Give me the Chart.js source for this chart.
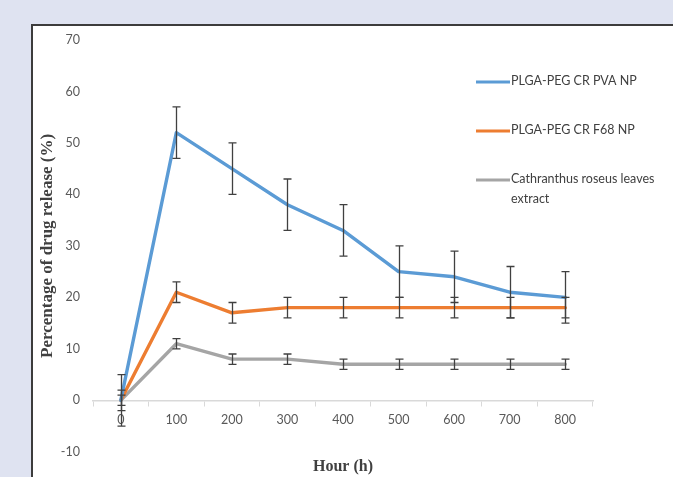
<!DOCTYPE html>
<html>
<head>
<meta charset="utf-8">
<title>Drug release</title>
<script src="https://cdn.jsdelivr.net/npm/chart.js@4.4.1/dist/chart.umd.min.js"></script>
<style>
  html, body {
    margin: 0;
    padding: 0;
    width: 673px;
    height: 477px;
    overflow: hidden;
    background: #dfe3f1;
  }
  .panel {
    position: absolute;
    left: 31px;
    top: 24px;
    right: 0;
    bottom: 0;
    background: #ffffff;
    border-left: 2px solid #3c3c3c;
    border-top: 2px solid #3c3c3c;
  }
  #releaseChart {
    position: absolute;
    left: 0;
    top: 0;
  }
</style>
</head>
<body>
<div class="panel"></div>
<canvas id="releaseChart" width="673" height="477"></canvas>

<script>
const hours = ["0", "100", "200", "300", "400", "500", "600", "700", "800"];

const pvaRelease = [0, 52, 45, 38, 33, 25, 24, 21, 20];
const pvaError = [5, 5, 5, 5, 5, 5, 5, 5, 5];

const f68Release = [0, 21, 17, 18, 18, 18, 18, 18, 18];
const f68Error = [2, 2, 2, 2, 2, 2, 2, 2, 2];

const extractRelease = [0, 11, 8, 8, 7, 7, 7, 7, 7];
const extractError = [1, 1, 1, 1, 1, 1, 1, 1, 1];

const legendLabels = [
  ["PLGA-PEG CR PVA NP"],
  ["PLGA-PEG CR F68 NP"],
  ["Cathranthus roseus leaves", "extract"]
];

const yTicks = [-10, 0, 10, 20, 30, 40, 50, 60, 70];

const labelFont = "Lato, 'Open Sans', sans-serif";
const titleFont = "'Liberation Serif', 'DejaVu Serif', serif";

// error bars, drawn on top of the lines
const errorBars = {
  id: "errorBars",
  afterDatasetsDraw(chart) {
    const ctx = chart.ctx;
    const x = chart.scales.x;
    const y = chart.scales.y;
    ctx.save();
    ctx.strokeStyle = "#404040";
    ctx.lineWidth = 1.3;
    chart.data.datasets.forEach((ds) => {
      ds.data.forEach((v, i) => {
        const e = ds.errors[i];
        const px = Math.round(x.getPixelForValue(i)) + 0.5;
        const top = y.getPixelForValue(v + e);
        const bot = y.getPixelForValue(v - e);
        ctx.beginPath();
        ctx.moveTo(px, top);
        ctx.lineTo(px, bot);
        ctx.moveTo(px - 4, top);
        ctx.lineTo(px + 4, top);
        ctx.moveTo(px - 4, bot);
        ctx.lineTo(px + 4, bot);
        ctx.stroke();
      });
    });
    ctx.restore();
  }
};

// legend on the right, with wrapped text
const sideLegend = {
  id: "sideLegend",
  afterDraw(chart) {
    const ctx = chart.ctx;
    const rows = [82, 131, 180];
    ctx.save();
    ctx.font = "12.5px " + labelFont;
    ctx.textBaseline = "middle";
    ctx.fillStyle = "#404040";
    chart.data.datasets.forEach((ds, i) => {
      const yy = rows[i];
      ctx.strokeStyle = ds.borderColor;
      ctx.lineWidth = 3;
      ctx.beginPath();
      ctx.moveTo(476, yy);
      ctx.lineTo(510, yy);
      ctx.stroke();
      legendLabels[i].forEach((line, j) => {
        ctx.fillText(line, 511, yy - 1 + j * 20);
      });
    });
    ctx.restore();
  }
};

const ctx = document.getElementById("releaseChart");

new Chart(ctx, {
  type: "line",
  data: {
    labels: hours,
    datasets: [
      {
        label: legendLabels[0].join(" "),
        data: pvaRelease,
        errors: pvaError,
        borderColor: "#5b9bd5",
        backgroundColor: "#5b9bd5"
      },
      {
        label: legendLabels[1].join(" "),
        data: f68Release,
        errors: f68Error,
        borderColor: "#ed7d31",
        backgroundColor: "#ed7d31"
      },
      {
        label: legendLabels[2].join(" "),
        data: extractRelease,
        errors: extractError,
        borderColor: "#a5a5a5",
        backgroundColor: "#a5a5a5"
      }
    ]
  },
  options: {
    responsive: false,
    animation: false,
    devicePixelRatio: 1,
    layout: {
      padding: { left: 37, right: 80, top: 40, bottom: 0 }
    },
    elements: {
      line: { borderWidth: 3.4, tension: 0, borderCapStyle: "round", borderJoinStyle: "round" },
      point: { radius: 0, hoverRadius: 0 }
    },
    scales: {
      x: {
        type: "category",
        offset: true,
        position: { y: 0 },
        afterFit(scale) {
          scale.height = 0;
        },
        grid: {
          display: true,
          offset: true,
          drawOnChartArea: false,
          drawTicks: true,
          tickLength: 5,
          color: "#d9d9d9",
          lineWidth: 1
        },
        border: { display: true, color: "#d9d9d9", width: 1.5 },
        ticks: {
          color: "#595959",
          font: { family: labelFont, size: 12.5 },
          padding: 7,
          maxRotation: 0
        }
      },
      y: {
        min: -10,
        max: 70,
        afterBuildTicks(scale) {
          scale.ticks = yTicks.map((v) => ({ value: v }));
        },
        afterFit(scale) {
          scale.width = 56;
        },
        grid: { display: false, drawTicks: false },
        border: { display: false },
        ticks: {
          color: "#595959",
          font: { family: labelFont, size: 12.5 },
          padding: 13
        },
        title: {
          display: true,
          text: "Percentage of drug release (%)",
          color: "#404040",
          font: { family: titleFont, size: 17, weight: "bold" },
          padding: { top: 0, bottom: 0 }
        }
      }
    },
    plugins: {
      legend: { display: false },
      tooltip: { enabled: false },
      title: {
        display: true,
        position: "bottom",
        fullSize: false,
        text: "Hour (h)",
        color: "#404040",
        font: { family: titleFont, size: 16, weight: "bold" },
        padding: { top: 5, bottom: 1 }
      }
    }
  },
  plugins: [errorBars, sideLegend]
});
</script>
</body>
</html>
